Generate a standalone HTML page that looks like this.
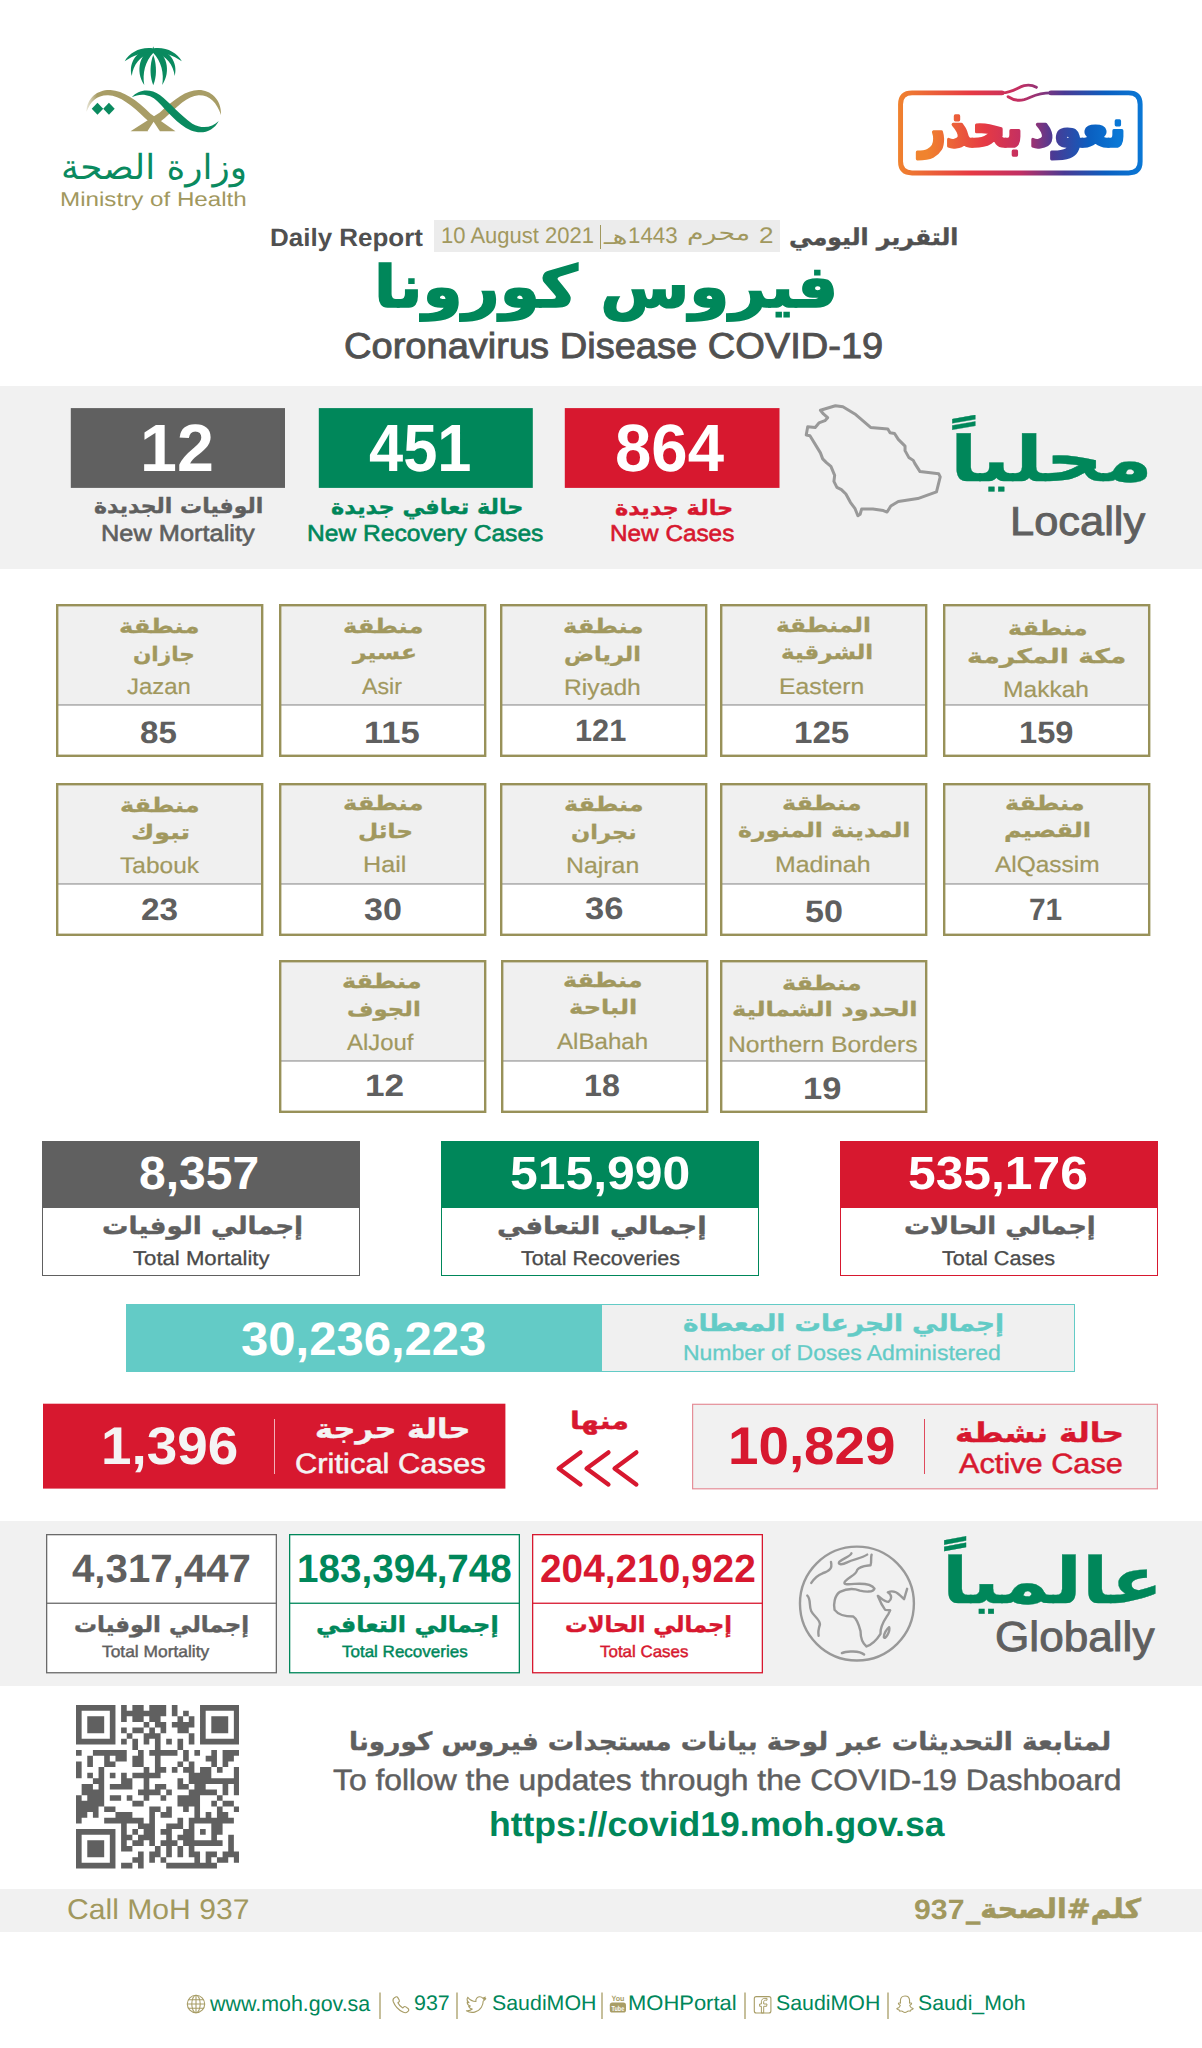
<!DOCTYPE html>
<html lang="ar">
<head>
<meta charset="utf-8">
<title>COVID-19 Daily Report</title>
<style>
*{box-sizing:border-box;margin:0;padding:0}
html,body{width:1202px;height:2048px;background:#fff;overflow:hidden}
body{position:relative;font-family:"Liberation Sans","DejaVu Sans",sans-serif;color:#5f5f5f}
.abs{position:absolute}
.band{position:absolute;left:0;width:1202px;background:#f1f1f1}
.t{position:absolute;white-space:nowrap;line-height:1;text-rendering:geometricPrecision}
.box{position:absolute}
</style>
</head>
<body>
<!-- header -->
<svg class="abs" style="left:80px;top:40px" width="150" height="100" viewBox="0 0 1202 801">
<defs><linearGradient id="gl" x1="0" y1="0" x2="1" y2="0"><stop offset="0" stop-color="#a89d66" stop-opacity="0.25"/><stop offset="0.12" stop-color="#a89d66"/><stop offset="1" stop-color="#a89d66"/></linearGradient></defs>
<g fill="#0a8a5f">
<path d="M587 50 L577 85 L597 85 Z"/>
<path d="M587 120 C556 200 560 300 587 362 C614 300 618 200 587 120 Z"/>
<path d="M590 70 C480 95 440 250 515 360 C500 270 520 170 590 100 Z"/>
<path d="M584 70 C694 95 734 250 659 360 C674 270 654 170 584 100 Z"/>
<path d="M585 68 C460 70 385 180 415 288 C425 200 480 125 585 95 Z"/>
<path d="M589 68 C714 70 789 180 759 288 C749 200 694 125 589 95 Z"/>
<path d="M580 66 C480 55 400 100 358 170 C430 120 500 100 580 95 Z"/>
<path d="M594 66 C694 55 774 100 816 170 C744 120 674 100 594 95 Z"/>
<path d="M140 502 L186 550 L140 598 L94 550 Z"/>
<path d="M232 502 L278 550 L232 598 L186 550 Z"/>
</g>
<path d="M52 575 C55 455 150 395 245 400 C345 405 455 480 565 590 L765 732 L640 732 L520 625 C420 525 320 445 225 442 C135 440 85 490 52 575 Z" fill="url(#gl)"/>
<path d="M1130 600 C1135 470 1040 398 950 400 C850 402 760 470 640 580 L405 732 L545 732 L680 625 C780 530 860 450 950 442 C1040 440 1095 500 1130 600 Z" fill="#a89d66"/>
<path d="M590 655 L540 732 L640 732 Z" fill="#fff"/>
<path d="M415 458 C470 395 560 385 640 440 C720 500 800 600 900 670 C980 715 1060 700 1112 648 C1070 730 980 760 890 725 C780 675 700 570 620 490 C560 430 480 425 415 458 Z" fill="#0a8a5f"/>
</svg>
<div class="t" style="left:60.9px;top:151.3px;font-family:'DejaVu Sans','Liberation Sans',sans-serif;font-size:34.5px;font-weight:normal;color:#0a8a5f;direction:rtl;transform-origin:0 0;transform:scaleX(1.037);">وزارة الصحة</div>
<div class="t" style="left:59.6px;top:190.3px;font-family:'Liberation Sans','DejaVu Sans',sans-serif;font-size:20px;font-weight:normal;color:#a1985e;transform-origin:0 0;transform:scaleX(1.209);">Ministry of Health</div>
<svg class="abs" style="left:850px;top:60px" width="350" height="200" viewBox="0 0 1202 687">
<defs><linearGradient id="bg1" gradientUnits="userSpaceOnUse" x1="163" y1="0" x2="1005" y2="0"><stop offset="0" stop-color="#f0832e"/><stop offset="0.3" stop-color="#e63a44"/><stop offset="0.5" stop-color="#c22f63"/><stop offset="0.68" stop-color="#4a3a94"/><stop offset="0.85" stop-color="#0b5fc0"/><stop offset="1" stop-color="#0a78d6"/></linearGradient></defs>
<g fill="none" stroke="url(#bg1)" stroke-width="17" stroke-linecap="round">
<path d="M522 113 L213 113 Q173.5 113 173.5 152 L173.5 349 Q173.5 388 213 388 L957 388 Q996.5 388 996.5 349 L996.5 152 Q996.5 113 957 113 L690 113"/>
<path d="M522 113 C560 112 575 94 598 88 C615 84 630 88 640 94" stroke-width="10"/>
<path d="M690 113 C640 113 625 128 598 136 C575 142 555 134 543 126" stroke-width="10"/>
</g></svg>
<svg class="abs" style="left:890px;top:85px" width="260" height="95" viewBox="0 0 260 95">
<defs><linearGradient id="bg2" gradientUnits="userSpaceOnUse" x1="-108" y1="0" x2="108" y2="0"><stop offset="0" stop-color="#f0832e"/><stop offset="0.3" stop-color="#e63a44"/><stop offset="0.5" stop-color="#c22f63"/><stop offset="0.66" stop-color="#4a3a94"/><stop offset="0.85" stop-color="#0b5fc0"/><stop offset="1" stop-color="#0a78d6"/></linearGradient></defs>
<text text-rendering="geometricPrecision" transform="translate(132.5,61) scale(0.885,1)" text-anchor="middle" direction="rtl" font-family="'DejaVu Sans',sans-serif" font-weight="bold" font-size="52" fill="url(#bg2)" stroke="url(#bg2)" stroke-width="3.4" stroke-linejoin="round" word-spacing="-10">نعود بحذر</text></svg>
<div class="t" style="left:270.2px;top:225.7px;font-family:'Liberation Sans','DejaVu Sans',sans-serif;font-size:25px;font-weight:bold;color:#505050;transform-origin:0 0;transform:scaleX(1.039);">Daily Report</div>
<div class="box" style="left:433.7px;top:220px;width:346.7px;height:31.5px;background:#ececec"></div>
<div class="t" style="left:441.0px;top:224.5px;font-family:'Liberation Sans','DejaVu Sans',sans-serif;font-size:22.5px;font-weight:normal;color:#a1985e;transform-origin:0 0;transform:scaleX(0.979);">10 August 2021</div>
<div class="box" style="left:600px;top:225px;width:1.3px;height:24px;background:#a1985e"></div>
<div class="t" style="left:603.5px;top:226.6px;font-family:'DejaVu Sans','Liberation Sans',sans-serif;font-size:20px;font-weight:normal;color:#a1985e;direction:rtl;transform-origin:0 0;transform:scaleX(1.433);">هـ</div>
<div class="t" style="left:628.0px;top:224.5px;font-family:'Liberation Sans','DejaVu Sans',sans-serif;font-size:22.5px;font-weight:normal;color:#a1985e;transform-origin:0 0;transform:scaleX(0.989);">1443</div>
<div class="t" style="left:686.7px;top:222.5px;font-family:'DejaVu Sans','Liberation Sans',sans-serif;font-size:21px;font-weight:normal;color:#a1985e;direction:rtl;transform-origin:0 0;transform:scaleX(1.277);">محرم</div>
<div class="t" style="left:758.5px;top:224.5px;font-family:'Liberation Sans','DejaVu Sans',sans-serif;font-size:22.5px;font-weight:normal;color:#a1985e;transform-origin:0 0;transform:scaleX(1.160);">2</div>
<div class="t" style="left:789.3px;top:226.5px;font-family:'DejaVu Sans','Liberation Sans',sans-serif;font-size:23px;font-weight:bold;color:#505050;direction:rtl;-webkit-text-stroke:0.4px #505050;transform-origin:0 0;transform:scaleX(1.023);">التقرير اليومي</div>
<div class="t" style="left:373.5px;top:257.5px;font-family:'DejaVu Sans','Liberation Sans',sans-serif;font-size:58px;font-weight:bold;color:#00875a;direction:rtl;-webkit-text-stroke:1.5px #00875a;transform-origin:0 0;transform:scaleX(1.113);">فيروس كورونا</div>
<div class="t" style="left:343.8px;top:327.9px;font-family:'Liberation Sans','DejaVu Sans',sans-serif;font-size:36px;font-weight:normal;color:#505050;-webkit-text-stroke:0.9px #505050;transform-origin:0 0;transform:scaleX(1.057);">Coronavirus Disease COVID-19</div>
<div class="band" style="top:385.5px;height:183.5px"></div>
<svg class="abs" style="left:70.0px;top:407px" width="217" height="82" viewBox="0 0 217 82"><rect x="0.8" y="1.1" width="214.2" height="79.8" fill="#606060"/></svg>
<svg class="abs" style="left:317.5px;top:407px" width="217" height="82" viewBox="0 0 217 82"><rect x="0.8" y="1.1" width="214" height="79.8" fill="#00875a"/></svg>
<svg class="abs" style="left:564.4px;top:407px" width="217" height="82" viewBox="0 0 217 82"><rect x="0.8" y="1.1" width="214.7" height="79.8" fill="#d7182f"/></svg>
<div class="t" style="left:139.6px;top:415.1px;font-family:'Liberation Sans','DejaVu Sans',sans-serif;font-size:67px;font-weight:bold;color:#fff;transform-origin:0 0;transform:scaleX(0.991);">12</div>
<div class="t" style="left:368.5px;top:415.1px;font-family:'Liberation Sans','DejaVu Sans',sans-serif;font-size:67px;font-weight:bold;color:#fff;transform-origin:0 0;transform:scaleX(0.917);">451</div>
<div class="t" style="left:614.5px;top:415.1px;font-family:'Liberation Sans','DejaVu Sans',sans-serif;font-size:67px;font-weight:bold;color:#fff;transform-origin:0 0;transform:scaleX(0.975);">864</div>
<div class="t" style="left:94.4px;top:496.0px;font-family:'DejaVu Sans','Liberation Sans',sans-serif;font-size:21px;font-weight:bold;color:#5f5f5f;direction:rtl;-webkit-text-stroke:0.4px #5f5f5f;transform-origin:0 0;transform:scaleX(1.048);">الوفيات الجديدة</div>
<div class="t" style="left:101.3px;top:521.5px;font-family:'Liberation Sans','DejaVu Sans',sans-serif;font-size:23px;font-weight:normal;color:#5f5f5f;-webkit-text-stroke:0.6px #5f5f5f;transform-origin:0 0;transform:scaleX(1.103);">New Mortality</div>
<div class="t" style="left:330.9px;top:496.5px;font-family:'DejaVu Sans','Liberation Sans',sans-serif;font-size:21px;font-weight:bold;color:#00875a;direction:rtl;-webkit-text-stroke:0.4px #00875a;transform-origin:0 0;transform:scaleX(1.066);">حالة تعافي جديدة</div>
<div class="t" style="left:306.9px;top:521.5px;font-family:'Liberation Sans','DejaVu Sans',sans-serif;font-size:23px;font-weight:normal;color:#00875a;-webkit-text-stroke:0.6px #00875a;transform-origin:0 0;transform:scaleX(1.069);">New Recovery Cases</div>
<div class="t" style="left:615.1px;top:497.5px;font-family:'DejaVu Sans','Liberation Sans',sans-serif;font-size:21px;font-weight:bold;color:#d7182f;direction:rtl;-webkit-text-stroke:0.4px #d7182f;transform-origin:0 0;transform:scaleX(1.069);">حالة جديدة</div>
<div class="t" style="left:609.6px;top:521.8px;font-family:'Liberation Sans','DejaVu Sans',sans-serif;font-size:23px;font-weight:normal;color:#d7182f;-webkit-text-stroke:0.6px #d7182f;transform-origin:0 0;transform:scaleX(1.057);">New Cases</div>
<svg class="abs" style="left:780px;top:390px" width="180" height="140" viewBox="0 0 1202 935"><path d="M270 135 L370 105 L420 112 L500 160 L605 250 L720 260 L735 285 L765 290 L790 330 L835 375 L835 405 L860 450 L890 470 L900 490 L935 545 L1060 560 L1070 580 L1045 680 L920 725 L790 745 L740 775 L715 815 L690 805 L620 795 L545 795 L535 830 L520 840 L500 790 L470 750 L440 695 L410 665 L380 650 L360 610 L365 570 L340 510 L310 485 L285 460 L270 420 L200 305 L175 300 L185 245 L235 250 L260 220 L300 205 L318 185 L290 160 Z" fill="none" stroke="#999" stroke-width="20" stroke-linejoin="round"/></svg>
<div class="t" style="left:949.7px;top:427.7px;font-family:'DejaVu Sans','Liberation Sans',sans-serif;font-size:63px;font-weight:bold;color:#00875a;direction:rtl;-webkit-text-stroke:0.3px #00875a;transform-origin:0 0;transform:scaleX(1.271);">محلياً</div>
<div class="t" style="left:1009.7px;top:500.5px;font-family:'Liberation Sans','DejaVu Sans',sans-serif;font-size:40.5px;font-weight:normal;color:#5f5f5f;-webkit-text-stroke:0.9px #5f5f5f;transform-origin:0 0;transform:scaleX(1.072);">Locally</div>
<svg class="abs" style="left:55.0px;top:603.4px" width="209.4" height="155.0" viewBox="-1 -1 209.4 155.0"><rect x="1.2" y="1.2" width="205.0" height="150.6" fill="#fff"/><rect x="1.2" y="1.2" width="205.0" height="99.6" fill="#f0f0f0"/><rect x="2" y="100.3" width="203.4" height="1.3" fill="#9c9c9c"/><rect x="1.2" y="1.2" width="205.0" height="150.6" fill="none" stroke="#989159" stroke-width="2.4"/></svg>
<div class="t" style="left:119.2px;top:615.7px;font-family:'DejaVu Sans','Liberation Sans',sans-serif;font-size:20px;font-weight:bold;color:#a1985e;direction:rtl;-webkit-text-stroke:0.3px #a1985e;transform-origin:0 0;transform:scaleX(1.208);">منطقة</div>
<div class="t" style="left:132.7px;top:644.3px;font-family:'DejaVu Sans','Liberation Sans',sans-serif;font-size:20px;font-weight:bold;color:#a1985e;direction:rtl;-webkit-text-stroke:0.3px #a1985e;transform-origin:0 0;transform:scaleX(1.076);">جازان</div>
<div class="t" style="left:127.3px;top:676.2px;font-family:'Liberation Sans','DejaVu Sans',sans-serif;font-size:22.5px;font-weight:normal;color:#a1985e;-webkit-text-stroke:0.2px #a1985e;transform-origin:0 0;transform:scaleX(1.063);">Jazan</div>
<div class="t" style="left:140.3px;top:716.9px;font-family:'Liberation Sans','DejaVu Sans',sans-serif;font-size:31px;font-weight:bold;color:#5f5f5f;transform-origin:0 0;transform:scaleX(1.067);">85</div>
<svg class="abs" style="left:278.2px;top:603.4px" width="209.4" height="155.0" viewBox="-1 -1 209.4 155.0"><rect x="1.2" y="1.2" width="205.0" height="150.6" fill="#fff"/><rect x="1.2" y="1.2" width="205.0" height="99.6" fill="#f0f0f0"/><rect x="2" y="100.3" width="203.4" height="1.3" fill="#9c9c9c"/><rect x="1.2" y="1.2" width="205.0" height="150.6" fill="none" stroke="#989159" stroke-width="2.4"/></svg>
<div class="t" style="left:343.0px;top:615.7px;font-family:'DejaVu Sans','Liberation Sans',sans-serif;font-size:20px;font-weight:bold;color:#a1985e;direction:rtl;-webkit-text-stroke:0.3px #a1985e;transform-origin:0 0;transform:scaleX(1.208);">منطقة</div>
<div class="t" style="left:353.1px;top:641.8px;font-family:'DejaVu Sans','Liberation Sans',sans-serif;font-size:20px;font-weight:bold;color:#a1985e;direction:rtl;-webkit-text-stroke:0.3px #a1985e;transform-origin:0 0;transform:scaleX(1.169);">عسير</div>
<div class="t" style="left:361.5px;top:676.2px;font-family:'Liberation Sans','DejaVu Sans',sans-serif;font-size:22.5px;font-weight:normal;color:#a1985e;-webkit-text-stroke:0.2px #a1985e;transform-origin:0 0;transform:scaleX(1.028);">Asir</div>
<div class="t" style="left:364.2px;top:716.9px;font-family:'Liberation Sans','DejaVu Sans',sans-serif;font-size:31px;font-weight:bold;color:#5f5f5f;transform-origin:0 0;transform:scaleX(1.117);">115</div>
<svg class="abs" style="left:499.3px;top:603.4px" width="209.4" height="155.0" viewBox="-1 -1 209.4 155.0"><rect x="1.2" y="1.2" width="205.0" height="150.6" fill="#fff"/><rect x="1.2" y="1.2" width="205.0" height="99.6" fill="#f0f0f0"/><rect x="2" y="100.3" width="203.4" height="1.3" fill="#9c9c9c"/><rect x="1.2" y="1.2" width="205.0" height="150.6" fill="none" stroke="#989159" stroke-width="2.4"/></svg>
<div class="t" style="left:563.4px;top:615.7px;font-family:'DejaVu Sans','Liberation Sans',sans-serif;font-size:20px;font-weight:bold;color:#a1985e;direction:rtl;-webkit-text-stroke:0.3px #a1985e;transform-origin:0 0;transform:scaleX(1.208);">منطقة</div>
<div class="t" style="left:564.3px;top:644.3px;font-family:'DejaVu Sans','Liberation Sans',sans-serif;font-size:20px;font-weight:bold;color:#a1985e;direction:rtl;-webkit-text-stroke:0.3px #a1985e;transform-origin:0 0;transform:scaleX(1.119);">الرياض</div>
<div class="t" style="left:563.6px;top:677.4px;font-family:'Liberation Sans','DejaVu Sans',sans-serif;font-size:22.5px;font-weight:normal;color:#a1985e;-webkit-text-stroke:0.2px #a1985e;transform-origin:0 0;transform:scaleX(1.097);">Riyadh</div>
<div class="t" style="left:575.3px;top:714.9px;font-family:'Liberation Sans','DejaVu Sans',sans-serif;font-size:31px;font-weight:bold;color:#5f5f5f;transform-origin:0 0;transform:scaleX(0.992);">121</div>
<svg class="abs" style="left:719.0px;top:603.4px" width="209.4" height="155.0" viewBox="-1 -1 209.4 155.0"><rect x="1.2" y="1.2" width="205.0" height="150.6" fill="#fff"/><rect x="1.2" y="1.2" width="205.0" height="99.6" fill="#f0f0f0"/><rect x="2" y="100.3" width="203.4" height="1.3" fill="#9c9c9c"/><rect x="1.2" y="1.2" width="205.0" height="150.6" fill="none" stroke="#989159" stroke-width="2.4"/></svg>
<div class="t" style="left:775.8px;top:614.9px;font-family:'DejaVu Sans','Liberation Sans',sans-serif;font-size:20px;font-weight:bold;color:#a1985e;direction:rtl;-webkit-text-stroke:0.3px #a1985e;transform-origin:0 0;transform:scaleX(1.158);">المنطقة</div>
<div class="t" style="left:780.5px;top:641.6px;font-family:'DejaVu Sans','Liberation Sans',sans-serif;font-size:20px;font-weight:bold;color:#a1985e;direction:rtl;-webkit-text-stroke:0.3px #a1985e;transform-origin:0 0;transform:scaleX(1.144);">الشرقية</div>
<div class="t" style="left:779.4px;top:676.2px;font-family:'Liberation Sans','DejaVu Sans',sans-serif;font-size:22.5px;font-weight:normal;color:#a1985e;-webkit-text-stroke:0.2px #a1985e;transform-origin:0 0;transform:scaleX(1.101);">Eastern</div>
<div class="t" style="left:794.1px;top:716.9px;font-family:'Liberation Sans','DejaVu Sans',sans-serif;font-size:31px;font-weight:bold;color:#5f5f5f;transform-origin:0 0;transform:scaleX(1.069);">125</div>
<svg class="abs" style="left:941.9px;top:603.4px" width="209.4" height="155.0" viewBox="-1 -1 209.4 155.0"><rect x="1.2" y="1.2" width="205.0" height="150.6" fill="#fff"/><rect x="1.2" y="1.2" width="205.0" height="99.6" fill="#f0f0f0"/><rect x="2" y="100.3" width="203.4" height="1.3" fill="#9c9c9c"/><rect x="1.2" y="1.2" width="205.0" height="150.6" fill="none" stroke="#989159" stroke-width="2.4"/></svg>
<div class="t" style="left:1007.5px;top:617.6px;font-family:'DejaVu Sans','Liberation Sans',sans-serif;font-size:20px;font-weight:bold;color:#a1985e;direction:rtl;-webkit-text-stroke:0.3px #a1985e;transform-origin:0 0;transform:scaleX(1.197);">منطقة</div>
<div class="t" style="left:967.3px;top:645.5px;font-family:'DejaVu Sans','Liberation Sans',sans-serif;font-size:20px;font-weight:bold;color:#a1985e;direction:rtl;-webkit-text-stroke:0.3px #a1985e;transform-origin:0 0;transform:scaleX(1.334);">مكة المكرمة</div>
<div class="t" style="left:1003.1px;top:678.9px;font-family:'Liberation Sans','DejaVu Sans',sans-serif;font-size:22.5px;font-weight:normal;color:#a1985e;-webkit-text-stroke:0.2px #a1985e;transform-origin:0 0;transform:scaleX(1.092);">Makkah</div>
<div class="t" style="left:1019.3px;top:716.9px;font-family:'Liberation Sans','DejaVu Sans',sans-serif;font-size:31px;font-weight:bold;color:#5f5f5f;transform-origin:0 0;transform:scaleX(1.053);">159</div>
<svg class="abs" style="left:55.0px;top:782.0px" width="209.4" height="155.0" viewBox="-1 -1 209.4 155.0"><rect x="1.2" y="1.2" width="205.0" height="150.6" fill="#fff"/><rect x="1.2" y="1.2" width="205.0" height="99.6" fill="#f0f0f0"/><rect x="2" y="100.3" width="203.4" height="1.3" fill="#9c9c9c"/><rect x="1.2" y="1.2" width="205.0" height="150.6" fill="none" stroke="#989159" stroke-width="2.4"/></svg>
<div class="t" style="left:119.9px;top:794.9px;font-family:'DejaVu Sans','Liberation Sans',sans-serif;font-size:20px;font-weight:bold;color:#a1985e;direction:rtl;-webkit-text-stroke:0.3px #a1985e;transform-origin:0 0;transform:scaleX(1.197);">منطقة</div>
<div class="t" style="left:131.3px;top:821.6px;font-family:'DejaVu Sans','Liberation Sans',sans-serif;font-size:20px;font-weight:bold;color:#a1985e;direction:rtl;-webkit-text-stroke:0.3px #a1985e;transform-origin:0 0;transform:scaleX(1.270);">تبوك</div>
<div class="t" style="left:120.4px;top:855.4px;font-family:'Liberation Sans','DejaVu Sans',sans-serif;font-size:22.5px;font-weight:normal;color:#a1985e;-webkit-text-stroke:0.2px #a1985e;transform-origin:0 0;transform:scaleX(1.089);">Tabouk</div>
<div class="t" style="left:141.1px;top:893.7px;font-family:'Liberation Sans','DejaVu Sans',sans-serif;font-size:31px;font-weight:bold;color:#5f5f5f;transform-origin:0 0;transform:scaleX(1.075);">23</div>
<svg class="abs" style="left:278.2px;top:782.0px" width="209.4" height="155.0" viewBox="-1 -1 209.4 155.0"><rect x="1.2" y="1.2" width="205.0" height="150.6" fill="#fff"/><rect x="1.2" y="1.2" width="205.0" height="99.6" fill="#f0f0f0"/><rect x="2" y="100.3" width="203.4" height="1.3" fill="#9c9c9c"/><rect x="1.2" y="1.2" width="205.0" height="150.6" fill="none" stroke="#989159" stroke-width="2.4"/></svg>
<div class="t" style="left:343.0px;top:792.9px;font-family:'DejaVu Sans','Liberation Sans',sans-serif;font-size:20px;font-weight:bold;color:#a1985e;direction:rtl;-webkit-text-stroke:0.3px #a1985e;transform-origin:0 0;transform:scaleX(1.208);">منطقة</div>
<div class="t" style="left:358.4px;top:821.3px;font-family:'DejaVu Sans','Liberation Sans',sans-serif;font-size:20px;font-weight:bold;color:#a1985e;direction:rtl;-webkit-text-stroke:0.3px #a1985e;transform-origin:0 0;transform:scaleX(1.164);">حائل</div>
<div class="t" style="left:363.1px;top:854.2px;font-family:'Liberation Sans','DejaVu Sans',sans-serif;font-size:22.5px;font-weight:normal;color:#a1985e;-webkit-text-stroke:0.2px #a1985e;transform-origin:0 0;transform:scaleX(1.117);">Hail</div>
<div class="t" style="left:364.2px;top:894.1px;font-family:'Liberation Sans','DejaVu Sans',sans-serif;font-size:31px;font-weight:bold;color:#5f5f5f;transform-origin:0 0;transform:scaleX(1.100);">30</div>
<svg class="abs" style="left:499.3px;top:782.0px" width="209.4" height="155.0" viewBox="-1 -1 209.4 155.0"><rect x="1.2" y="1.2" width="205.0" height="150.6" fill="#fff"/><rect x="1.2" y="1.2" width="205.0" height="99.6" fill="#f0f0f0"/><rect x="2" y="100.3" width="203.4" height="1.3" fill="#9c9c9c"/><rect x="1.2" y="1.2" width="205.0" height="150.6" fill="none" stroke="#989159" stroke-width="2.4"/></svg>
<div class="t" style="left:564.2px;top:793.7px;font-family:'DejaVu Sans','Liberation Sans',sans-serif;font-size:20px;font-weight:bold;color:#a1985e;direction:rtl;-webkit-text-stroke:0.3px #a1985e;transform-origin:0 0;transform:scaleX(1.195);">منطقة</div>
<div class="t" style="left:571.2px;top:821.6px;font-family:'DejaVu Sans','Liberation Sans',sans-serif;font-size:20px;font-weight:bold;color:#a1985e;direction:rtl;-webkit-text-stroke:0.3px #a1985e;transform-origin:0 0;transform:scaleX(1.127);">نجران</div>
<div class="t" style="left:565.5px;top:855.0px;font-family:'Liberation Sans','DejaVu Sans',sans-serif;font-size:22.5px;font-weight:normal;color:#a1985e;-webkit-text-stroke:0.2px #a1985e;transform-origin:0 0;transform:scaleX(1.105);">Najran</div>
<div class="t" style="left:584.6px;top:892.9px;font-family:'Liberation Sans','DejaVu Sans',sans-serif;font-size:31px;font-weight:bold;color:#5f5f5f;transform-origin:0 0;transform:scaleX(1.112);">36</div>
<svg class="abs" style="left:719.0px;top:782.0px" width="209.4" height="155.0" viewBox="-1 -1 209.4 155.0"><rect x="1.2" y="1.2" width="205.0" height="150.6" fill="#fff"/><rect x="1.2" y="1.2" width="205.0" height="99.6" fill="#f0f0f0"/><rect x="2" y="100.3" width="203.4" height="1.3" fill="#9c9c9c"/><rect x="1.2" y="1.2" width="205.0" height="150.6" fill="none" stroke="#989159" stroke-width="2.4"/></svg>
<div class="t" style="left:781.6px;top:792.9px;font-family:'DejaVu Sans','Liberation Sans',sans-serif;font-size:20px;font-weight:bold;color:#a1985e;direction:rtl;-webkit-text-stroke:0.3px #a1985e;transform-origin:0 0;transform:scaleX(1.195);">منطقة</div>
<div class="t" style="left:737.6px;top:819.6px;font-family:'DejaVu Sans','Liberation Sans',sans-serif;font-size:20px;font-weight:bold;color:#a1985e;direction:rtl;-webkit-text-stroke:0.3px #a1985e;transform-origin:0 0;transform:scaleX(1.182);">المدينة المنورة</div>
<div class="t" style="left:774.8px;top:854.2px;font-family:'Liberation Sans','DejaVu Sans',sans-serif;font-size:22.5px;font-weight:normal;color:#a1985e;-webkit-text-stroke:0.2px #a1985e;transform-origin:0 0;transform:scaleX(1.107);">Madinah</div>
<div class="t" style="left:804.6px;top:895.6px;font-family:'Liberation Sans','DejaVu Sans',sans-serif;font-size:31px;font-weight:bold;color:#5f5f5f;transform-origin:0 0;transform:scaleX(1.100);">50</div>
<svg class="abs" style="left:941.9px;top:782.0px" width="209.4" height="155.0" viewBox="-1 -1 209.4 155.0"><rect x="1.2" y="1.2" width="205.0" height="150.6" fill="#fff"/><rect x="1.2" y="1.2" width="205.0" height="99.6" fill="#f0f0f0"/><rect x="2" y="100.3" width="203.4" height="1.3" fill="#9c9c9c"/><rect x="1.2" y="1.2" width="205.0" height="150.6" fill="none" stroke="#989159" stroke-width="2.4"/></svg>
<div class="t" style="left:1004.8px;top:792.9px;font-family:'DejaVu Sans','Liberation Sans',sans-serif;font-size:20px;font-weight:bold;color:#a1985e;direction:rtl;-webkit-text-stroke:0.3px #a1985e;transform-origin:0 0;transform:scaleX(1.197);">منطقة</div>
<div class="t" style="left:1004.1px;top:820.4px;font-family:'DejaVu Sans','Liberation Sans',sans-serif;font-size:20px;font-weight:bold;color:#a1985e;direction:rtl;-webkit-text-stroke:0.3px #a1985e;transform-origin:0 0;transform:scaleX(1.203);">القصيم</div>
<div class="t" style="left:994.6px;top:854.2px;font-family:'Liberation Sans','DejaVu Sans',sans-serif;font-size:22.5px;font-weight:normal;color:#a1985e;-webkit-text-stroke:0.2px #a1985e;transform-origin:0 0;transform:scaleX(1.087);">AlQassim</div>
<div class="t" style="left:1028.8px;top:894.1px;font-family:'Liberation Sans','DejaVu Sans',sans-serif;font-size:31px;font-weight:bold;color:#5f5f5f;transform-origin:0 0;transform:scaleX(0.964);">71</div>
<svg class="abs" style="left:278.4px;top:959.0px" width="209.4" height="155.0" viewBox="-1 -1 209.4 155.0"><rect x="1.2" y="1.2" width="205.0" height="150.6" fill="#fff"/><rect x="1.2" y="1.2" width="205.0" height="99.6" fill="#f0f0f0"/><rect x="2" y="100.3" width="203.4" height="1.3" fill="#9c9c9c"/><rect x="1.2" y="1.2" width="205.0" height="150.6" fill="none" stroke="#989159" stroke-width="2.4"/></svg>
<div class="t" style="left:341.5px;top:970.7px;font-family:'DejaVu Sans','Liberation Sans',sans-serif;font-size:20px;font-weight:bold;color:#a1985e;direction:rtl;-webkit-text-stroke:0.3px #a1985e;transform-origin:0 0;transform:scaleX(1.197);">منطقة</div>
<div class="t" style="left:347.4px;top:998.6px;font-family:'DejaVu Sans','Liberation Sans',sans-serif;font-size:20px;font-weight:bold;color:#a1985e;direction:rtl;-webkit-text-stroke:0.3px #a1985e;transform-origin:0 0;transform:scaleX(1.142);">الجوف</div>
<div class="t" style="left:346.5px;top:1032.0px;font-family:'Liberation Sans','DejaVu Sans',sans-serif;font-size:22.5px;font-weight:normal;color:#a1985e;-webkit-text-stroke:0.2px #a1985e;transform-origin:0 0;transform:scaleX(1.063);">AlJouf</div>
<div class="t" style="left:364.5px;top:1069.9px;font-family:'Liberation Sans','DejaVu Sans',sans-serif;font-size:31px;font-weight:bold;color:#5f5f5f;transform-origin:0 0;transform:scaleX(1.135);">12</div>
<svg class="abs" style="left:499.6px;top:959.0px" width="209.4" height="155.0" viewBox="-1 -1 209.4 155.0"><rect x="1.2" y="1.2" width="205.0" height="150.6" fill="#fff"/><rect x="1.2" y="1.2" width="205.0" height="99.6" fill="#f0f0f0"/><rect x="2" y="100.3" width="203.4" height="1.3" fill="#9c9c9c"/><rect x="1.2" y="1.2" width="205.0" height="150.6" fill="none" stroke="#989159" stroke-width="2.4"/></svg>
<div class="t" style="left:562.7px;top:969.9px;font-family:'DejaVu Sans','Liberation Sans',sans-serif;font-size:20px;font-weight:bold;color:#a1985e;direction:rtl;-webkit-text-stroke:0.3px #a1985e;transform-origin:0 0;transform:scaleX(1.197);">منطقة</div>
<div class="t" style="left:569.2px;top:997.1px;font-family:'DejaVu Sans','Liberation Sans',sans-serif;font-size:20px;font-weight:bold;color:#a1985e;direction:rtl;-webkit-text-stroke:0.3px #a1985e;transform-origin:0 0;transform:scaleX(1.206);">الباحة</div>
<div class="t" style="left:557.0px;top:1031.2px;font-family:'Liberation Sans','DejaVu Sans',sans-serif;font-size:22.5px;font-weight:normal;color:#a1985e;-webkit-text-stroke:0.2px #a1985e;transform-origin:0 0;transform:scaleX(1.071);">AlBahah</div>
<div class="t" style="left:583.6px;top:1069.9px;font-family:'Liberation Sans','DejaVu Sans',sans-serif;font-size:31px;font-weight:bold;color:#5f5f5f;transform-origin:0 0;transform:scaleX(1.041);">18</div>
<svg class="abs" style="left:719.0px;top:959.0px" width="209.4" height="155.0" viewBox="-1 -1 209.4 155.0"><rect x="1.2" y="1.2" width="205.0" height="150.6" fill="#fff"/><rect x="1.2" y="1.2" width="205.0" height="99.6" fill="#f0f0f0"/><rect x="2" y="100.3" width="203.4" height="1.3" fill="#9c9c9c"/><rect x="1.2" y="1.2" width="205.0" height="150.6" fill="none" stroke="#989159" stroke-width="2.4"/></svg>
<div class="t" style="left:781.7px;top:972.6px;font-family:'DejaVu Sans','Liberation Sans',sans-serif;font-size:20px;font-weight:bold;color:#a1985e;direction:rtl;-webkit-text-stroke:0.3px #a1985e;transform-origin:0 0;transform:scaleX(1.197);">منطقة</div>
<div class="t" style="left:732.0px;top:999.3px;font-family:'DejaVu Sans','Liberation Sans',sans-serif;font-size:20px;font-weight:bold;color:#a1985e;direction:rtl;-webkit-text-stroke:0.3px #a1985e;transform-origin:0 0;transform:scaleX(1.209);">الحدود الشمالية</div>
<div class="t" style="left:727.9px;top:1033.9px;font-family:'Liberation Sans','DejaVu Sans',sans-serif;font-size:22.5px;font-weight:normal;color:#a1985e;-webkit-text-stroke:0.2px #a1985e;transform-origin:0 0;transform:scaleX(1.099);">Northern Borders</div>
<div class="t" style="left:802.5px;top:1073.0px;font-family:'Liberation Sans','DejaVu Sans',sans-serif;font-size:31px;font-weight:bold;color:#5f5f5f;transform-origin:0 0;transform:scaleX(1.113);">19</div>
<div class="box" style="left:42px;top:1140.5px;width:318px;height:135px;border:1px solid #606060;background:#fff"><div style="height:67px;background:#606060;margin:-1px -1px 0 -1px"></div></div>
<div class="t" style="left:139.3px;top:1150.3px;font-family:'Liberation Sans','DejaVu Sans',sans-serif;font-size:46.5px;font-weight:bold;color:#fff;transform-origin:0 0;transform:scaleX(1.032);">8,357</div>
<div class="t" style="left:101.9px;top:1213.9px;font-family:'DejaVu Sans','Liberation Sans',sans-serif;font-size:24px;font-weight:bold;color:#5f5f5f;direction:rtl;-webkit-text-stroke:0.4px #5f5f5f;transform-origin:0 0;transform:scaleX(1.098);">إجمالي الوفيات</div>
<div class="t" style="left:133.0px;top:1248.6px;font-family:'Liberation Sans','DejaVu Sans',sans-serif;font-size:20px;font-weight:normal;color:#4a4a4a;-webkit-text-stroke:0.3px #4a4a4a;transform-origin:0 0;transform:scaleX(1.107);">Total Mortality</div>
<div class="box" style="left:441px;top:1140.5px;width:318px;height:135px;border:1px solid #00875a;background:#fff"><div style="height:67px;background:#00875a;margin:-1px -1px 0 -1px"></div></div>
<div class="t" style="left:510.0px;top:1150.3px;font-family:'Liberation Sans','DejaVu Sans',sans-serif;font-size:46.5px;font-weight:bold;color:#fff;transform-origin:0 0;transform:scaleX(1.072);">515,990</div>
<div class="t" style="left:496.8px;top:1213.9px;font-family:'DejaVu Sans','Liberation Sans',sans-serif;font-size:24px;font-weight:bold;color:#5f5f5f;direction:rtl;-webkit-text-stroke:0.4px #5f5f5f;transform-origin:0 0;transform:scaleX(1.153);">إجمالي التعافي</div>
<div class="t" style="left:520.8px;top:1248.6px;font-family:'Liberation Sans','DejaVu Sans',sans-serif;font-size:20px;font-weight:normal;color:#4a4a4a;-webkit-text-stroke:0.3px #4a4a4a;transform-origin:0 0;transform:scaleX(1.076);">Total Recoveries</div>
<div class="box" style="left:840px;top:1140.5px;width:318px;height:135px;border:1px solid #d7182f;background:#fff"><div style="height:67px;background:#d7182f;margin:-1px -1px 0 -1px"></div></div>
<div class="t" style="left:908.2px;top:1150.3px;font-family:'Liberation Sans','DejaVu Sans',sans-serif;font-size:46.5px;font-weight:bold;color:#fff;transform-origin:0 0;transform:scaleX(1.070);">535,176</div>
<div class="t" style="left:903.6px;top:1213.9px;font-family:'DejaVu Sans','Liberation Sans',sans-serif;font-size:24px;font-weight:bold;color:#5f5f5f;direction:rtl;-webkit-text-stroke:0.4px #5f5f5f;transform-origin:0 0;transform:scaleX(1.078);">إجمالي الحالات</div>
<div class="t" style="left:941.8px;top:1248.6px;font-family:'Liberation Sans','DejaVu Sans',sans-serif;font-size:20px;font-weight:normal;color:#4a4a4a;-webkit-text-stroke:0.3px #4a4a4a;transform-origin:0 0;transform:scaleX(1.083);">Total Cases</div>
<div class="box" style="left:126px;top:1303.5px;width:949px;height:68px;background:#f0f0f0;border:1px solid #63cbc6"></div>
<div class="box" style="left:126px;top:1303.5px;width:475.5px;height:68px;background:#63cbc6"></div>
<div class="t" style="left:241.3px;top:1315.2px;font-family:'Liberation Sans','DejaVu Sans',sans-serif;font-size:47px;font-weight:bold;color:#fff;transform-origin:0 0;transform:scaleX(1.043);">30,236,223</div>
<div class="t" style="left:682.9px;top:1313.0px;font-family:'DejaVu Sans','Liberation Sans',sans-serif;font-size:23px;font-weight:bold;color:#63cbc6;direction:rtl;-webkit-text-stroke:0.4px #63cbc6;transform-origin:0 0;transform:scaleX(1.143);">إجمالي الجرعات المعطاة</div>
<div class="t" style="left:682.9px;top:1343.4px;font-family:'Liberation Sans','DejaVu Sans',sans-serif;font-size:21.5px;font-weight:normal;color:#63cbc6;-webkit-text-stroke:0.3px #63cbc6;transform-origin:0 0;transform:scaleX(1.068);">Number of Doses Administered</div>
<svg class="abs" style="left:42px;top:1403px" width="465" height="87" viewBox="0 0 465 87"><rect x="1" y="0.7" width="462.4" height="84.9" fill="#d7182f"/></svg>
<div class="t" style="left:100.5px;top:1419.6px;font-family:'Liberation Sans','DejaVu Sans',sans-serif;font-size:53px;font-weight:bold;color:#f4f4f4;transform-origin:0 0;transform:scaleX(1.034);">1,396</div>
<div class="box" style="left:274px;top:1418.7px;width:1.3px;height:55px;background:#f3b0b8"></div>
<div class="t" style="left:314.5px;top:1416.3px;font-family:'DejaVu Sans','Liberation Sans',sans-serif;font-size:27px;font-weight:bold;color:#f4f4f4;direction:rtl;-webkit-text-stroke:0.4px #f4f4f4;transform-origin:0 0;transform:scaleX(1.129);">حالة حرجة</div>
<div class="t" style="left:294.6px;top:1450.0px;font-family:'Liberation Sans','DejaVu Sans',sans-serif;font-size:28px;font-weight:normal;color:#f4f4f4;-webkit-text-stroke:0.5px #f4f4f4;transform-origin:0 0;transform:scaleX(1.104);">Critical Cases</div>
<div class="t" style="left:569.6px;top:1409.2px;font-family:'DejaVu Sans','Liberation Sans',sans-serif;font-size:24px;font-weight:bold;color:#d7182f;direction:rtl;-webkit-text-stroke:0.4px #d7182f;transform-origin:0 0;transform:scaleX(1.193);">منها</div>
<svg class="abs" style="left:550px;top:1445px" width="100" height="45" viewBox="0 0 100 45"><g fill="none" stroke="#d7182f" stroke-width="4.4" stroke-linecap="round" stroke-linejoin="round"><path d="M30.4 7.4 L8.7 23.4 L30.4 39.4"/><path d="M58.4 7.4 L36.6 23.4 L58.4 39.4"/><path d="M86.3 7.4 L64.6 23.4 L86.3 39.4"/></g></svg>
<svg class="abs" style="left:691px;top:1403px" width="468" height="88" viewBox="0 0 468 88"><rect x="1.6" y="1.3" width="464.8" height="84.5" fill="#f1f1f1" stroke="#e58e98" stroke-width="1.2"/></svg>
<div class="t" style="left:728.1px;top:1420.1px;font-family:'Liberation Sans','DejaVu Sans',sans-serif;font-size:53px;font-weight:bold;color:#d7182f;transform-origin:0 0;transform:scaleX(1.033);">10,829</div>
<div class="box" style="left:924px;top:1418.7px;width:1.3px;height:55px;background:#df4a5c"></div>
<div class="t" style="left:955.4px;top:1419.7px;font-family:'DejaVu Sans','Liberation Sans',sans-serif;font-size:27px;font-weight:bold;color:#d7182f;direction:rtl;-webkit-text-stroke:0.4px #d7182f;transform-origin:0 0;transform:scaleX(1.159);">حالة نشطة</div>
<div class="t" style="left:958.6px;top:1450.1px;font-family:'Liberation Sans','DejaVu Sans',sans-serif;font-size:28px;font-weight:normal;color:#d7182f;-webkit-text-stroke:0.5px #d7182f;transform-origin:0 0;transform:scaleX(1.097);">Active Case</div>
<div class="band" style="top:1521px;height:165px"></div>
<svg class="abs" style="left:45.2px;top:1533px" width="233" height="142" viewBox="-1 -1 233 142"><rect x="0.65" y="0.65" width="229.7" height="138.1" fill="#fff" stroke="#6a6a6a" stroke-width="1.3"/><rect x="0.65" y="68.6" width="229.7" height="1.3" fill="#6a6a6a"/></svg>
<div class="t" style="left:72.4px;top:1550.0px;font-family:'Liberation Sans','DejaVu Sans',sans-serif;font-size:39.5px;font-weight:bold;color:#5f5f5f;transform-origin:0 0;transform:scaleX(1.018);">4,317,447</div>
<div class="t" style="left:73.9px;top:1615.0px;font-family:'DejaVu Sans','Liberation Sans',sans-serif;font-size:22px;font-weight:bold;color:#5f5f5f;direction:rtl;-webkit-text-stroke:0.4px #5f5f5f;transform-origin:0 0;transform:scaleX(1.043);">إجمالي الوفيات</div>
<div class="t" style="left:102.3px;top:1644.3px;font-family:'Liberation Sans','DejaVu Sans',sans-serif;font-size:16.5px;font-weight:normal;color:#5f5f5f;-webkit-text-stroke:0.45px #5f5f5f;transform-origin:0 0;transform:scaleX(1.053);">Total Mortality</div>
<svg class="abs" style="left:288px;top:1533px" width="233" height="142" viewBox="-1 -1 233 142"><rect x="0.65" y="0.65" width="229.7" height="138.1" fill="#fff" stroke="#00875a" stroke-width="1.3"/><rect x="0.65" y="68.6" width="229.7" height="1.3" fill="#00875a"/></svg>
<div class="t" style="left:296.7px;top:1550.0px;font-family:'Liberation Sans','DejaVu Sans',sans-serif;font-size:39.5px;font-weight:bold;color:#00875a;transform-origin:0 0;transform:scaleX(0.978);">183,394,748</div>
<div class="t" style="left:315.5px;top:1615.0px;font-family:'DejaVu Sans','Liberation Sans',sans-serif;font-size:22px;font-weight:bold;color:#00875a;direction:rtl;-webkit-text-stroke:0.4px #00875a;transform-origin:0 0;transform:scaleX(1.096);">إجمالي التعافي</div>
<div class="t" style="left:342.4px;top:1644.3px;font-family:'Liberation Sans','DejaVu Sans',sans-serif;font-size:16.5px;font-weight:normal;color:#00875a;-webkit-text-stroke:0.45px #00875a;transform-origin:0 0;transform:scaleX(1.030);">Total Recoveries</div>
<svg class="abs" style="left:531.2px;top:1533px" width="233" height="142" viewBox="-1 -1 233 142"><rect x="0.65" y="0.65" width="229.7" height="138.1" fill="#fff" stroke="#d7182f" stroke-width="1.3"/><rect x="0.65" y="68.6" width="229.7" height="1.3" fill="#d7182f"/></svg>
<div class="t" style="left:540.2px;top:1550.0px;font-family:'Liberation Sans','DejaVu Sans',sans-serif;font-size:39.5px;font-weight:bold;color:#d7182f;transform-origin:0 0;transform:scaleX(0.982);">204,210,922</div>
<div class="t" style="left:565.2px;top:1615.0px;font-family:'DejaVu Sans','Liberation Sans',sans-serif;font-size:22px;font-weight:bold;color:#d7182f;direction:rtl;-webkit-text-stroke:0.4px #d7182f;transform-origin:0 0;transform:scaleX(1.025);">إجمالي الحالات</div>
<div class="t" style="left:599.5px;top:1644.3px;font-family:'Liberation Sans','DejaVu Sans',sans-serif;font-size:16.5px;font-weight:normal;color:#d7182f;-webkit-text-stroke:0.45px #d7182f;transform-origin:0 0;transform:scaleX(1.026);">Total Cases</div>
<svg class="abs" style="left:780px;top:1530px" width="160" height="150" viewBox="0 0 1202 1127"><g fill="none" stroke="#999" stroke-width="18" stroke-linecap="round" stroke-linejoin="round">
<circle cx="578" cy="553" r="428"/>
<path d="M537 175 C530 200 470 215 445 240 C430 262 470 262 500 245 C560 215 610 215 655 185"/>
<path d="M688 185 C680 215 690 240 680 265 C640 270 600 270 580 300 C570 340 520 350 490 385 C470 410 500 410 560 405 C630 400 690 410 710 440 C700 470 640 465 600 455 C560 440 500 440 450 465 C410 490 400 560 410 600 C440 640 500 650 550 650 C580 670 595 720 605 760 C605 810 620 850 650 875 C690 860 730 820 755 780 C750 720 790 670 815 630 L828 603 L790 600 C760 560 745 520 735 495 C760 510 780 540 815 540 C840 520 845 490 810 468 C850 450 880 470 900 490 L932 520 L955 442"/>
<path d="M383 240 C395 290 370 310 320 325 C280 340 255 365 235 398"/>
<path d="M205 493 C235 520 215 570 235 610 C255 650 300 670 300 710 C290 740 285 770 290 795"/>
<path d="M465 925 C500 905 600 910 632 935"/>
<path d="M820 730 C800 745 780 780 780 805 C790 830 830 760 820 730 Z"/>
</g></svg>
<div class="t" style="left:941.6px;top:1549.9px;font-family:'DejaVu Sans','Liberation Sans',sans-serif;font-size:64px;font-weight:bold;color:#00875a;direction:rtl;-webkit-text-stroke:0.3px #00875a;transform-origin:0 0;transform:scaleX(1.195);">عالمياً</div>
<div class="t" style="left:994.8px;top:1616.3px;font-family:'Liberation Sans','DejaVu Sans',sans-serif;font-size:42px;font-weight:normal;color:#5f5f5f;-webkit-text-stroke:0.9px #5f5f5f;transform-origin:0 0;transform:scaleX(1.051);">Globally</div>
<svg class="abs" style="left:75.7px;top:1705px" width="163.5" height="163.5" viewBox="0 0 29 29"><path d="M0 0h7v1h-7zM8 0h1v1h-1zM10 0h2v1h-2zM13 0h3v1h-3zM17 0h1v1h-1zM22 0h7v1h-7zM0 1h1v1h-1zM6 1h1v1h-1zM8 1h8v1h-8zM17 1h1v1h-1zM19 1h1v1h-1zM22 1h1v1h-1zM28 1h1v1h-1zM0 2h1v1h-1zM2 2h3v1h-3zM6 2h1v1h-1zM8 2h1v1h-1zM10 2h2v1h-2zM13 2h2v1h-2zM18 2h1v1h-1zM20 2h1v1h-1zM22 2h1v1h-1zM24 2h3v1h-3zM28 2h1v1h-1zM0 3h1v1h-1zM2 3h3v1h-3zM6 3h1v1h-1zM12 3h1v1h-1zM14 3h2v1h-2zM17 3h4v1h-4zM22 3h1v1h-1zM24 3h3v1h-3zM28 3h1v1h-1zM0 4h1v1h-1zM2 4h3v1h-3zM6 4h1v1h-1zM8 4h1v1h-1zM10 4h2v1h-2zM13 4h1v1h-1zM15 4h1v1h-1zM18 4h2v1h-2zM22 4h1v1h-1zM24 4h3v1h-3zM28 4h1v1h-1zM0 5h1v1h-1zM6 5h1v1h-1zM9 5h1v1h-1zM12 5h3v1h-3zM20 5h1v1h-1zM22 5h1v1h-1zM28 5h1v1h-1zM0 6h7v1h-7zM8 6h1v1h-1zM10 6h1v1h-1zM12 6h1v1h-1zM14 6h1v1h-1zM16 6h1v1h-1zM18 6h1v1h-1zM20 6h1v1h-1zM22 6h7v1h-7zM10 7h1v1h-1zM14 7h1v1h-1zM18 7h1v1h-1zM0 8h1v1h-1zM3 8h6v1h-6zM11 8h1v1h-1zM13 8h5v1h-5zM19 8h1v1h-1zM21 8h1v1h-1zM24 8h1v1h-1zM26 8h3v1h-3zM2 9h1v1h-1zM5 9h1v1h-1zM7 9h2v1h-2zM10 9h2v1h-2zM14 9h1v1h-1zM19 9h1v1h-1zM23 9h2v1h-2zM26 9h2v1h-2zM0 10h1v1h-1zM2 10h1v1h-1zM5 10h2v1h-2zM10 10h2v1h-2zM14 10h1v1h-1zM18 10h1v1h-1zM20 10h1v1h-1zM24 10h1v1h-1zM26 10h1v1h-1zM0 11h1v1h-1zM4 11h1v1h-1zM12 11h1v1h-1zM14 11h2v1h-2zM17 11h1v1h-1zM19 11h2v1h-2zM22 11h2v1h-2zM25 11h1v1h-1zM28 11h1v1h-1zM0 12h1v1h-1zM2 12h1v1h-1zM4 12h1v1h-1zM6 12h1v1h-1zM8 12h1v1h-1zM10 12h5v1h-5zM20 12h4v1h-4zM28 12h1v1h-1zM3 13h2v1h-2zM8 13h2v1h-2zM12 13h1v1h-1zM18 13h1v1h-1zM20 13h9v1h-9zM1 14h2v1h-2zM4 14h1v1h-1zM6 14h4v1h-4zM12 14h1v1h-1zM14 14h2v1h-2zM18 14h2v1h-2zM21 14h2v1h-2zM26 14h1v1h-1zM28 14h1v1h-1zM1 15h4v1h-4zM11 15h4v1h-4zM16 15h1v1h-1zM20 15h5v1h-5zM26 15h1v1h-1zM28 15h1v1h-1zM0 16h1v1h-1zM2 16h3v1h-3zM6 16h2v1h-2zM9 16h1v1h-1zM12 16h1v1h-1zM15 16h1v1h-1zM18 16h4v1h-4zM25 16h1v1h-1zM0 17h5v1h-5zM10 17h2v1h-2zM18 17h4v1h-4zM24 17h1v1h-1zM26 17h2v1h-2zM0 18h4v1h-4zM5 18h2v1h-2zM13 18h2v1h-2zM16 18h1v1h-1zM19 18h1v1h-1zM21 18h1v1h-1zM25 18h1v1h-1zM28 18h1v1h-1zM0 19h2v1h-2zM3 19h1v1h-1zM7 19h3v1h-3zM13 19h1v1h-1zM15 19h2v1h-2zM21 19h1v1h-1zM23 19h1v1h-1zM25 19h2v1h-2zM0 20h1v1h-1zM5 20h7v1h-7zM13 20h1v1h-1zM18 20h1v1h-1zM20 20h8v1h-8zM8 21h1v1h-1zM11 21h3v1h-3zM16 21h3v1h-3zM20 21h1v1h-1zM24 21h2v1h-2zM0 22h7v1h-7zM8 22h1v1h-1zM10 22h1v1h-1zM12 22h2v1h-2zM15 22h2v1h-2zM19 22h2v1h-2zM22 22h1v1h-1zM24 22h2v1h-2zM0 23h1v1h-1zM6 23h1v1h-1zM8 23h2v1h-2zM11 23h3v1h-3zM16 23h1v1h-1zM18 23h3v1h-3zM24 23h1v1h-1zM27 23h1v1h-1zM0 24h1v1h-1zM2 24h3v1h-3zM6 24h1v1h-1zM8 24h1v1h-1zM10 24h2v1h-2zM13 24h1v1h-1zM15 24h3v1h-3zM19 24h7v1h-7zM27 24h1v1h-1zM0 25h1v1h-1zM2 25h3v1h-3zM6 25h1v1h-1zM8 25h2v1h-2zM14 25h1v1h-1zM16 25h1v1h-1zM18 25h1v1h-1zM20 25h1v1h-1zM27 25h1v1h-1zM0 26h1v1h-1zM2 26h3v1h-3zM6 26h1v1h-1zM11 26h1v1h-1zM13 26h2v1h-2zM16 26h1v1h-1zM18 26h1v1h-1zM20 26h2v1h-2zM23 26h2v1h-2zM26 26h3v1h-3zM0 27h1v1h-1zM6 27h1v1h-1zM10 27h2v1h-2zM13 27h1v1h-1zM15 27h1v1h-1zM21 27h1v1h-1zM23 27h1v1h-1zM25 27h2v1h-2zM28 27h1v1h-1zM0 28h7v1h-7zM8 28h2v1h-2zM11 28h1v1h-1zM16 28h9v1h-9z" fill="#606060"/></svg>
<div class="t" style="left:348.6px;top:1728.7px;font-family:'DejaVu Sans','Liberation Sans',sans-serif;font-size:25px;font-weight:bold;color:#5f5f5f;direction:rtl;-webkit-text-stroke:0.4px #5f5f5f;transform-origin:0 0;transform:scaleX(1.055);">لمتابعة التحديثات عبر لوحة بيانات مستجدات فيروس كورونا</div>
<div class="t" style="left:333.3px;top:1766.2px;font-family:'Liberation Sans','DejaVu Sans',sans-serif;font-size:29.5px;font-weight:normal;color:#5f5f5f;-webkit-text-stroke:0.5px #5f5f5f;transform-origin:0 0;transform:scaleX(1.078);">To follow the updates through the COVID-19 Dashboard</div>
<div class="t" style="left:489.1px;top:1807.6px;font-family:'Liberation Sans','DejaVu Sans',sans-serif;font-size:34.5px;font-weight:bold;color:#00875a;transform-origin:0 0;transform:scaleX(1.030);">https://covid19.moh.gov.sa</div>
<div class="band" style="top:1888.7px;height:43.7px"></div>
<div class="t" style="left:66.9px;top:1895.7px;font-family:'Liberation Sans','DejaVu Sans',sans-serif;font-size:28.5px;font-weight:normal;color:#a1985e;transform-origin:0 0;transform:scaleX(1.057);">Call MoH 937</div>
<div class="t" style="left:913.9px;top:1896.3px;font-family:'Liberation Sans','DejaVu Sans',sans-serif;font-size:28px;font-weight:bold;color:#a1985e;transform-origin:0 0;transform:scaleX(1.080);">937</div>
<div class="t" style="left:965.5px;top:1896.0px;font-family:'DejaVu Sans','Liberation Sans',sans-serif;font-size:27px;font-weight:bold;color:#a1985e;direction:rtl;-webkit-text-stroke:0.5px #a1985e;transform-origin:0 0;transform:scaleX(1.056);">كلم#الصحة_</div>
<div class="t" style="left:210.4px;top:1992.6px;font-family:'Liberation Sans','DejaVu Sans',sans-serif;font-size:22px;font-weight:normal;color:#00875a;transform-origin:0 0;transform:scaleX(0.973);">www.moh.gov.sa</div>
<div class="t" style="left:413.6px;top:1993.4px;font-family:'Liberation Sans','DejaVu Sans',sans-serif;font-size:21px;font-weight:normal;color:#00875a;transform-origin:0 0;transform:scaleX(1.021);">937</div>
<div class="t" style="left:492.0px;top:1993.4px;font-family:'Liberation Sans','DejaVu Sans',sans-serif;font-size:21px;font-weight:normal;color:#00875a;transform-origin:0 0;transform:scaleX(1.017);">SaudiMOH</div>
<div class="t" style="left:628.1px;top:1993.4px;font-family:'Liberation Sans','DejaVu Sans',sans-serif;font-size:21px;font-weight:normal;color:#00875a;transform-origin:0 0;transform:scaleX(1.046);">MOHPortal</div>
<div class="t" style="left:776.4px;top:1993.4px;font-family:'Liberation Sans','DejaVu Sans',sans-serif;font-size:21px;font-weight:normal;color:#00875a;transform-origin:0 0;transform:scaleX(1.016);">SaudiMOH</div>
<div class="t" style="left:918.2px;top:1993.4px;font-family:'Liberation Sans','DejaVu Sans',sans-serif;font-size:21px;font-weight:normal;color:#00875a;transform-origin:0 0;transform:scaleX(1.012);">Saudi_Moh</div>
<svg class="abs" style="left:377.7px;top:1990px" width="4" height="32" viewBox="0 0 4 32"><rect x="1.35" y="2.5" width="1.3" height="26.5" fill="#a89d66"/></svg>
<svg class="abs" style="left:454.7px;top:1990px" width="4" height="32" viewBox="0 0 4 32"><rect x="1.35" y="2.5" width="1.3" height="26.5" fill="#a89d66"/></svg>
<svg class="abs" style="left:600.2px;top:1990px" width="4" height="32" viewBox="0 0 4 32"><rect x="1.35" y="2.5" width="1.3" height="26.5" fill="#a89d66"/></svg>
<svg class="abs" style="left:742.5px;top:1990px" width="4" height="32" viewBox="0 0 4 32"><rect x="1.35" y="2.5" width="1.3" height="26.5" fill="#a89d66"/></svg>
<svg class="abs" style="left:885.7px;top:1990px" width="4" height="32" viewBox="0 0 4 32"><rect x="1.35" y="2.5" width="1.3" height="26.5" fill="#a89d66"/></svg>
<svg class="abs" style="left:185px;top:1992.7px" width="22" height="22" viewBox="-11 -11 22 22"><g fill="none" stroke="#a89d66" stroke-width="1.1"><circle r="8.7"/><ellipse rx="4.2" ry="8.7"/><path d="M0 -8.7V8.7M-8.7 0H8.7M-7.6 -4.3H7.6M-7.6 4.3H7.6"/></g></svg>
<svg class="abs" style="left:390px;top:1994px" width="21" height="21" viewBox="0 0 21 21"><path d="M5.2 3.2 C6.2 2.4 7.2 2.6 7.8 3.6 L9.2 6 C9.7 6.9 9.4 7.7 8.6 8.3 L7.9 8.8 C8.9 11 10.6 12.8 12.8 14 L13.4 13.3 C14.1 12.5 15 12.3 15.8 12.9 L18 14.5 C18.9 15.2 19 16.2 18.2 17.1 L17.4 17.9 C16.3 19 14.6 18.9 12.9 18.1 C8.6 16 5 12.2 3.3 7.8 C2.7 6.1 3 4.7 4.2 3.9 Z" fill="none" stroke="#a89d66" stroke-width="1.15" stroke-linejoin="round"/></svg>
<svg class="abs" style="left:464px;top:1994px" width="24" height="21" viewBox="0 0 24 21"><path d="M21.8 4.6 C21 5 20.3 5.2 19.5 5.3 C20.3 4.8 20.9 4 21.2 3.1 C20.4 3.6 19.6 3.9 18.7 4.1 C17.2 2.4 14.6 2.3 13 3.9 C12 4.9 11.6 6.2 11.9 7.5 C8.7 7.3 5.8 5.8 3.8 3.3 C2.7 5.1 3.3 7.4 5 8.6 C4.4 8.6 3.8 8.4 3.2 8.1 C3.2 10 4.6 11.7 6.4 12.1 C5.8 12.3 5.2 12.3 4.6 12.2 C5.1 13.8 6.6 14.9 8.3 15 C6.6 16.3 4.5 16.9 2.4 16.7 C7.5 19.9 14.2 18.4 17.4 13.3 C18.6 11.4 19.2 9.3 19.2 7.1 C20.2 6.4 21.1 5.6 21.8 4.6 Z" fill="none" stroke="#a89d66" stroke-width="1.1" stroke-linejoin="round"/></svg>
<svg class="abs" style="left:608px;top:1993px" width="20" height="22" viewBox="0 0 20 22"><text text-rendering="geometricPrecision" x="9.9" y="8.2" text-anchor="middle" font-family="'Liberation Sans',sans-serif" font-weight="bold" font-size="7.6" fill="#a89d66" textLength="13" lengthAdjust="spacingAndGlyphs">You</text><rect x="1.8" y="9.6" width="16.2" height="10" rx="2.6" fill="#a89d66"/><text text-rendering="geometricPrecision" x="9.9" y="17.6" text-anchor="middle" font-family="'Liberation Sans',sans-serif" font-weight="bold" font-size="7.2" fill="#fff" textLength="12.6" lengthAdjust="spacingAndGlyphs">Tube</text></svg>
<svg class="abs" style="left:752px;top:1994px" width="22" height="22" viewBox="0 0 22 22"><rect x="2.3" y="2.6" width="16.6" height="16.4" rx="2" fill="none" stroke="#a89d66" stroke-width="1.1"/><path d="M15 6.2 H13.4 C12.3 6.2 11.7 6.9 11.7 8 V10 H15 L14.6 12.3 H11.7 V19 H9.4 V12.3 H7.6 V10 H9.4 V7.8 C9.4 5.6 10.7 4.4 12.8 4.4 H15 Z" fill="none" stroke="#a89d66" stroke-width="1" stroke-linejoin="round"/></svg>
<svg class="abs" style="left:894px;top:1993px" width="22" height="22" viewBox="0 0 22 22"><path d="M11 3 C14 3 15.6 5.2 15.6 7.8 C15.6 8.7 15.5 9.5 15.5 10 C16 10.3 16.7 9.8 17.3 10.1 C17.9 10.5 17.5 11.2 16.9 11.5 C16.3 11.8 15.6 12 15.7 12.6 C16.3 14.1 17.5 15.2 19.2 15.6 C19.2 16.5 17.8 16.6 16.9 16.9 C16.6 17.3 16.8 18 16.2 18.1 C15.3 18.1 14.6 17.8 13.7 18.2 C12.9 18.7 12.2 19.5 11 19.5 C9.8 19.5 9.1 18.7 8.3 18.2 C7.4 17.8 6.7 18.1 5.8 18.1 C5.2 18 5.4 17.3 5.1 16.9 C4.2 16.6 2.8 16.5 2.8 15.6 C4.5 15.2 5.7 14.1 6.3 12.6 C6.4 12 5.7 11.8 5.1 11.5 C4.5 11.2 4.1 10.5 4.7 10.1 C5.3 9.8 6 10.3 6.5 10 C6.5 9.5 6.4 8.7 6.4 7.8 C6.4 5.2 8 3 11 3 Z" fill="none" stroke="#a89d66" stroke-width="1.1" stroke-linejoin="round"/></svg>
</body>
</html>
